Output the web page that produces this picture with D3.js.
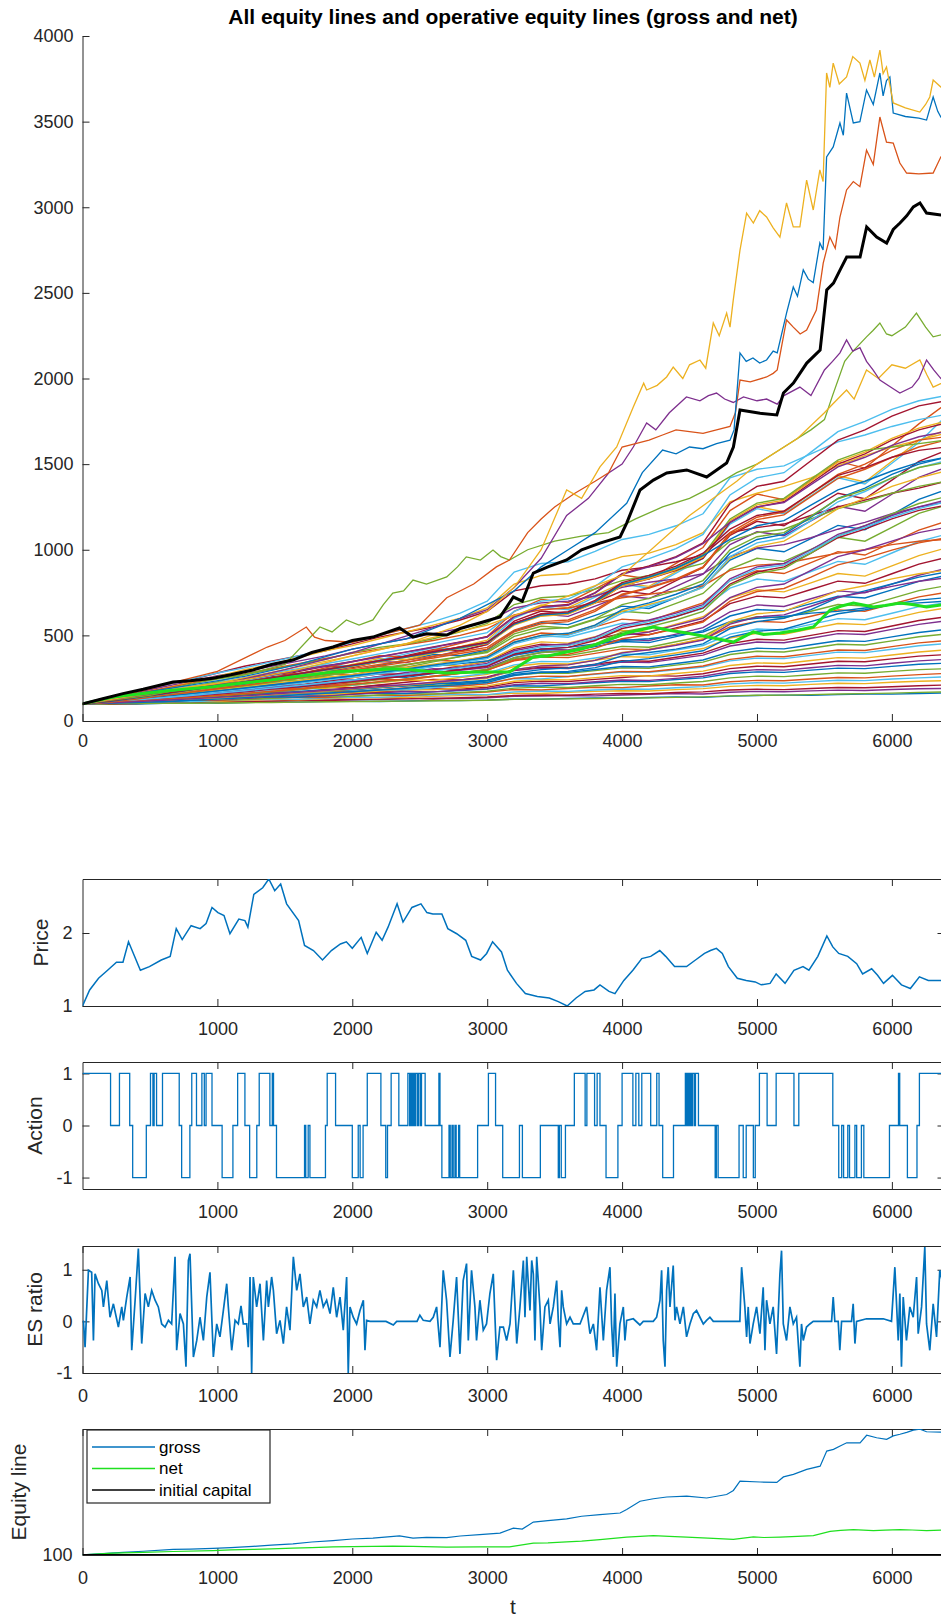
<!DOCTYPE html>
<html>
<head>
<meta charset="utf-8">
<script src="https://cdn.jsdelivr.net/npm/d3@7"></script>
<style>
  body { margin: 0; background: #fff; }
  svg { display: block; }
</style>
</head>
<body>
<div id="chart"></div>
<script>
////////////////////////////////////////////////////////////////////
////////////////////////////  Data  ////////////////////////////////
// sampling grid of the bulk equity lines (t)
const bulkT = [0,200,400,600,800,1000,1200,1400,1600,1800,2000,2200,2400,2600,2800,3000,3200,
  3400,3600,3800,4000,4200,4400,4600,4800,5000,5200,5400,5600,5800,6000,6200,6400];

// all equity lines (bulk), values read at bulkT
const bulkEquity = [
  [100,101,99,103,106,104,108,111,110,113,115,114,117,120,119,122,128,127,131,134,133,137,140,138,145,149,151,150,154,158,157,161,164],
  [100,104,107,105,110,114,117,115,119,124,126,125,130,133,131,136,144,146,149,147,152,156,160,158,168,173,171,176,180,178,184,188,190],
  [100,97,102,106,109,113,111,116,121,119,124,128,132,130,136,140,149,152,150,157,161,159,166,170,181,185,183,190,196,194,200,206,210],
  [100,105,108,113,117,115,121,126,124,130,135,139,137,144,148,152,163,161,168,173,177,175,183,189,202,208,206,214,220,218,226,232,236],
  [100,103,110,114,112,119,125,129,127,134,140,138,145,151,156,154,170,175,173,181,187,185,194,201,217,223,221,230,238,236,245,252,258],
  [100,106,111,116,122,120,127,134,139,137,145,151,149,157,164,169,184,182,190,197,195,204,212,210,229,237,235,245,254,252,262,271,278],
  [100,102,109,117,121,127,125,133,140,146,144,152,160,158,167,174,192,198,196,206,214,212,222,231,252,262,259,270,281,279,290,300,305],
  [100,107,114,112,121,129,134,141,139,148,156,163,161,170,178,186,206,204,214,223,232,230,242,252,277,287,284,297,309,306,319,331,338],
  [100,104,112,120,126,124,133,142,149,147,157,165,172,170,180,189,212,220,218,229,239,237,249,261,288,300,297,311,325,322,337,351,360],
  [100,108,116,122,130,138,136,146,155,163,161,171,180,188,186,197,224,233,231,243,254,265,262,276,306,320,317,333,349,346,363,379,388],
  [100,103,112,121,129,127,137,147,156,154,165,175,184,182,194,205,232,242,240,253,265,263,277,291,324,339,336,353,370,367,385,403,415],
  [100,109,118,116,126,136,145,154,152,163,174,184,182,194,206,218,248,246,259,273,286,284,299,315,351,367,364,383,402,399,419,439,452],
  [100,105,115,125,134,143,141,152,163,173,171,183,195,206,204,217,250,262,260,275,290,288,304,321,360,378,375,395,415,412,434,456,470],
  [100,110,120,131,129,140,151,161,172,170,183,195,207,205,219,233,268,280,278,294,310,308,326,344,388,407,403,425,448,444,468,492,508],
  [100,106,117,128,139,137,149,161,173,184,182,195,209,222,220,235,272,286,284,301,318,316,336,356,404,425,421,445,469,465,491,517,535],
  [100,111,122,120,132,145,157,169,167,181,195,209,207,222,238,253,294,309,306,325,344,341,363,385,438,461,457,483,510,505,535,564,585],
  [100,107,119,132,144,142,156,170,184,197,195,210,226,242,240,257,298,315,312,332,352,349,372,396,452,477,472,500,528,523,555,587,608],
  [100,112,125,138,136,150,165,179,193,191,207,223,239,237,254,272,318,336,333,354,376,372,397,423,485,512,507,538,569,563,598,634,660],
  [100,108,122,136,150,148,164,180,196,212,209,227,245,262,259,279,328,348,345,368,391,387,414,441,507,537,531,564,598,591,629,668,690],
  [100,114,128,126,142,158,174,190,188,206,224,242,239,259,279,298,352,374,370,395,421,416,446,476,549,582,576,612,649,641,683,725,750],
  [100,109,125,141,157,155,173,191,209,227,224,244,264,284,281,303,362,386,382,409,436,431,463,495,574,609,602,641,680,671,716,761,790],
  [100,115,131,129,147,165,183,201,198,218,238,258,255,277,300,322,384,410,405,434,464,458,493,528,613,651,643,685,728,718,766,815,850],
  [100,110,128,146,164,162,182,202,222,242,238,260,283,305,301,326,392,420,415,446,477,470,507,545,637,678,669,714,760,748,799,851,890],
  [100,116,134,132,152,172,192,212,209,231,253,276,272,297,322,347,418,449,443,477,511,504,544,585,685,729,719,768,817,804,860,916,955],
  [100,111,131,151,171,168,190,212,235,257,253,278,302,327,322,350,428,462,455,492,529,521,565,609,718,766,754,807,861,846,906,966,1010],
  [100,118,138,136,158,180,202,225,221,246,271,296,291,319,347,375,460,497,489,530,571,562,610,658,776,829,815,873,932,915,981,1048,1090],
  [100,113,135,157,179,176,201,226,251,276,271,299,327,355,349,380,473,514,505,550,595,584,637,690,819,877,861,925,989,969,1042,1115,1165],
  [100,120,142,140,164,189,214,239,235,263,291,319,314,345,376,407,509,553,543,592,641,629,687,745,887,950,932,1002,1073,1050,1131,1212,1260],
  [100,115,140,165,190,187,215,243,271,299,293,324,356,388,381,415,526,574,563,617,671,657,721,785,940,1008,988,1065,1142,1117,1205,1294,1350],
  [100,122,147,145,172,200,228,256,251,283,315,347,341,376,411,446,570,624,611,671,731,715,786,857,1030,1105,1082,1168,1254,1225,1324,1423,1480],
  [100,118,145,172,199,195,226,257,288,319,312,347,382,417,409,448,583,642,628,693,759,741,819,897,1084,1166,1140,1235,1330,1298,1407,1516,1580],
  [100,124,151,148,178,208,238,268,263,297,331,365,358,396,434,472,613,677,662,734,806,786,872,958,1161,1251,1222,1327,1432,1396,1517,1638,1700],
  [100,120,148,176,204,200,232,264,296,328,320,356,392,428,419,460,600,666,650,724,798,777,863,949,1150,1240,1210,1315,1420,1384,1505,1626,1780],
  [100,126,155,152,184,216,248,280,274,310,346,382,374,414,454,494,640,710,692,772,852,829,921,1013,1229,1325,1292,1404,1516,1477,1606,1735,1850],
  [100,100,102,103,104,105,107,108,110,112,113,115,116,118,120,121,126,128,129,131,134,135,138,141,147,150,151,154,158,160,163,167,170],
  [100,110,125,140,160,175,190,210,230,245,260,280,300,320,335,350,400,420,430,450,470,480,500,520,580,600,610,630,640,660,680,690,700],
  [100,130,165,200,230,265,290,320,350,380,420,450,480,510,540,580,660,690,700,730,780,810,830,860,960,1010,1030,1070,1120,1160,1210,1250,1280],
  [100,128,170,210,240,280,320,350,380,410,450,490,520,550,590,640,760,790,800,830,880,900,930,970,1100,1130,1150,1200,1250,1290,1330,1360,1400],
  [100,122,160,190,225,260,300,330,370,410,440,480,520,560,600,660,800,850,860,910,960,980,1030,1100,1280,1330,1370,1420,1490,1550,1600,1640,1680],
  [100,135,175,210,245,280,310,345,380,420,460,500,540,580,630,700,870,920,930,990,1060,1090,1140,1210,1420,1470,1490,1560,1630,1670,1720,1760,1790],
  [100,125,160,190,220,250,275,305,335,365,395,420,445,470,500,540,620,650,660,690,720,740,760,790,880,910,920,950,980,1000,1030,1050,1060],
  [100,118,150,180,215,245,270,300,330,360,400,430,450,480,520,570,680,720,730,770,820,850,880,920,1050,1100,1120,1180,1240,1280,1330,1370,1400],
  [100,105,112,120,130,138,146,155,165,175,185,196,205,215,226,238,280,300,310,330,380,400,420,450,540,580,600,650,720,760,800,840,870],
  [100,112,126,140,152,166,180,195,208,222,236,250,265,280,296,312,370,400,410,440,500,520,560,600,720,780,800,880,960,1000,1050,1100,1130],
  [100,108,118,130,142,156,170,186,200,215,230,246,262,280,300,320,390,420,430,470,540,570,610,660,800,870,900,980,1070,1120,1180,1230,1260],
  [100,115,132,150,166,184,200,218,236,254,272,292,312,332,354,376,460,500,510,560,640,680,720,780,950,1020,1050,1140,1240,1300,1370,1420,1460],
  [100,110,124,139,154,170,186,202,220,238,256,276,296,318,340,364,450,490,500,550,630,670,720,780,960,1040,1070,1170,1280,1340,1420,1480,1520],
  [100,118,138,158,178,198,218,240,262,284,306,330,354,378,404,430,530,580,590,650,740,780,830,900,1100,1190,1220,1330,1440,1500,1580,1640,1660],
  [100,106,114,124,134,146,158,170,184,198,212,228,244,262,280,300,370,400,410,450,520,550,590,640,790,860,890,980,1080,1140,1210,1270,1310],
  [100,113,128,144,160,176,193,210,228,246,264,284,304,326,348,372,460,500,512,560,650,690,740,800,980,1060,1090,1190,1300,1360,1440,1500,1540],
  [100,109,120,133,146,160,174,189,205,221,238,256,274,294,314,336,410,440,450,490,560,590,630,680,830,900,920,1000,1090,1140,1200,1250,1290],
  [100,120,142,164,186,208,230,254,278,302,326,352,378,404,432,460,570,620,630,690,790,830,880,950,1160,1250,1280,1390,1500,1560,1640,1700,1740],
  [100,104,110,118,126,135,144,154,164,175,186,198,210,223,236,250,300,322,330,356,400,420,448,480,580,626,640,700,760,790,830,860,880],
  [100,111,123,136,149,163,177,192,207,223,239,256,273,291,310,330,400,432,440,480,550,580,620,670,820,890,910,990,1080,1130,1190,1240,1280],
  [100,107,116,126,137,149,161,174,187,201,215,230,245,261,278,296,356,382,390,424,480,505,538,578,700,756,774,840,912,950,998,1040,1070],
  [100,116,134,152,170,188,206,226,246,266,286,308,330,352,376,400,494,536,546,596,680,716,760,820,1000,1076,1100,1196,1298,1350,1420,1480,1510],
  [100,103,108,114,121,128,136,144,153,162,171,181,191,202,213,225,266,284,290,312,348,364,386,410,490,524,536,580,626,650,680,706,720],
  [100,106,113,121,129,138,147,157,167,178,189,201,213,226,239,253,300,322,328,354,398,416,442,472,566,608,620,670,724,752,786,816,836],
  [100,120,145,170,195,220,245,270,296,322,348,376,404,432,462,492,610,668,680,750,860,905,960,1040,1270,1370,1400,1520,1640,1700,1780,1840,1870],
  [100,112,134,156,178,200,222,246,270,294,318,344,370,396,424,452,560,612,624,688,790,832,884,958,1170,1262,1290,1400,1512,1570,1650,1710,1750],
  [100,124,150,176,200,226,252,280,306,334,362,392,422,452,484,516,640,700,712,786,900,948,1006,1090,1320,1420,1450,1570,1690,1750,1820,1870,1900],
  [100,109,128,148,168,188,208,230,252,274,296,320,344,368,394,420,520,568,580,640,736,776,826,896,1090,1176,1204,1310,1416,1470,1540,1600,1640],
  [100,118,140,162,184,206,228,252,276,300,324,350,376,402,430,458,568,620,632,698,800,842,896,970,1180,1272,1300,1412,1524,1580,1600,1620,1640],
  [100,114,136,158,180,202,226,250,274,298,322,348,374,400,428,456,566,618,630,696,798,840,892,966,1060,1140,1170,1260,1350,1400,1460,1510,1540],
  [100,122,146,170,194,218,242,268,294,320,346,374,402,430,460,490,608,664,676,746,856,900,956,1036,1160,1250,1276,1380,1484,1540,1610,1660,1690],
  [100,116,138,160,182,204,228,252,276,300,326,352,378,404,432,460,572,626,638,704,808,850,904,980,1120,1200,1226,1330,1434,1480,1540,1580,1600]
];

// highest equity lines, [t, value]
const yellowTop = [[0,100],[400,150],[800,200],[1200,240],[1600,300],[2000,380],[2400,450],[2800,560],[3000,640],[3200,780],[3400,1000],[3589,1349],[3700,1300],[3836,1484],[3960,1600],[4083,1834],[4160,1973],[4182,1933],[4260,1960],[4330,2009],[4379,2067],[4450,2000],[4500,2080],[4577,2108],[4620,2060],[4676,2324],[4720,2250],[4775,2382],[4800,2300],[4824,2458],[4874,2750],[4923,2966],[4973,2908],[5020,2980],[5071,2943],[5120,2880],[5170,2826],[5219,3025],[5269,2885],[5318,2885],[5368,3159],[5417,2984],[5466,3218],[5490,3150],[5516,3784],[5540,3700],[5565,3842],[5610,3720],[5664,3761],[5710,3880],[5763,3842],[5800,3740],[5837,3860],[5870,3760],[5911,3918],[5935,3780],[5960,3819],[6010,3609],[6100,3580],[6207,3556],[6250,3600],[6281,3644],[6306,3743],[6363,3702],[6390,3700]];
const blueTop = [[0,100],[400,160],[800,210],[1200,260],[1600,330],[2000,420],[2400,480],[2800,600],[3000,680],[3200,760],[3400,900],[3600,1000],[3800,1100],[4034,1271],[4150,1450],[4300,1582],[4400,1560],[4500,1600],[4600,1590],[4700,1620],[4800,1640],[4830,1700],[4874,2149],[4920,2100],[4970,2120],[5020,2090],[5071,2108],[5120,2160],[5150,2150],[5219,2382],[5269,2534],[5300,2480],[5343,2634],[5380,2580],[5417,2560],[5466,2791],[5490,2750],[5516,3294],[5565,3352],[5615,3492],[5640,3420],[5664,3667],[5714,3492],[5763,3500],[5812,3685],[5862,3600],[5911,3784],[5935,3650],[5960,3740],[5985,3761],[6010,3550],[6100,3530],[6200,3520],[6257,3509],[6290,3600],[6306,3644],[6340,3560],[6363,3527],[6390,3530]];
const redTop = [[0,100],[400,170],[800,250],[1000,290],[1370,432],[1500,470],[1659,549],[1720,490],[1800,470],[2000,460],[2200,500],[2500,560],[2700,720],[2900,800],[3068,900],[3165,940],[3300,1100],[3400,1180],[3500,1250],[3650,1330],[3800,1400],[3900,1450],[4000,1600],[4100,1620],[4200,1640],[4300,1670],[4400,1700],[4500,1690],[4600,1680],[4700,1700],[4800,1720],[4840,1800],[4874,1991],[4950,1980],[5071,2009],[5120,2030],[5150,2050],[5219,2342],[5269,2300],[5320,2260],[5368,2283],[5440,2400],[5491,2674],[5540,2826],[5580,2760],[5615,2943],[5664,3101],[5714,3150],[5763,3120],[5812,3334],[5862,3250],[5911,3527],[5960,3380],[6010,3375],[6059,3258],[6109,3200],[6200,3195],[6306,3200],[6363,3294],[6390,3290]];
const purpleTop = [[0,100],[500,160],[1000,210],[1500,300],[2000,400],[2500,520],[3000,650],[3200,780],[3400,950],[3589,1200],[3750,1300],[3900,1448],[4000,1500],[4083,1600],[4182,1740],[4250,1700],[4350,1800],[4477,1892],[4577,1870],[4640,1900],[4700,1915],[4760,1880],[4824,1860],[4900,1892],[5000,1870],[5071,1880],[5150,1850],[5200,1900],[5318,1950],[5400,1900],[5500,2050],[5560,2100],[5615,2150],[5664,2225],[5710,2160],[5763,2180],[5812,2100],[5860,2050],[5911,1991],[5990,1950],[6059,1915],[6150,1950],[6200,2000],[6257,2108],[6310,2050],[6363,2000],[6390,2010]];
const oliveTop = [[0,100],[500,150],[1000,230],[1500,330],[1760,549],[1850,520],[1956,590],[2050,560],[2153,590],[2230,680],[2300,747],[2380,760],[2450,823],[2550,800],[2700,841],[2780,900],[2845,958],[2950,940],[3043,998],[3100,960],[3165,940],[3300,1000],[3500,1050],[3700,1080],[3900,1100],[4100,1180],[4300,1250],[4500,1300],[4700,1380],[4850,1450],[5000,1500],[5200,1600],[5400,1700],[5500,1760],[5560,1900],[5650,2100],[5700,2150],[5812,2243],[5860,2280],[5911,2324],[5960,2260],[6000,2250],[6100,2300],[6182,2382],[6250,2300],[6306,2243],[6390,2260]];
const yellowSecond = [[0,100],[1000,220],[2000,380],[3000,560],[3500,700],[4000,850],[4500,1200],[4850,1400],[5000,1500],[5300,1650],[5500,1800],[5560,1850],[5664,1933],[5720,1880],[5812,2050],[5900,2000],[6000,2080],[6100,2060],[6207,2108],[6260,2020],[6306,1950],[6390,1980]];

// operative equity lines
const grossEquity = [[0,100],[150,130],[300,160],[450,185],[672,228],[800,235],[967,250],[1100,270],[1264,298],[1400,330],[1560,356],[1700,400],[1857,432],[2000,470],[2153,490],[2350,543],[2450,490],[2550,510],[2700,502],[2800,540],[2944,572],[3095,607],[3194,724],[3260,700],[3342,864],[3450,900],[3589,940],[3700,1000],[3836,1039],[3985,1075],[4034,1156],[4133,1349],[4232,1407],[4331,1448],[4479,1466],[4627,1425],[4775,1506],[4825,1600],[4874,1816],[5023,1797],[5147,1787],[5196,1915],[5270,1973],[5369,2090],[5468,2166],[5517,2517],[5567,2557],[5620,2640],[5665,2709],[5764,2709],[5813,2885],[5887,2826],[5961,2791],[6010,2870],[6060,2908],[6110,2950],[6159,3002],[6208,3025],[6257,2966],[6363,2955],[6390,2955]];
const netEquity = [[0,100],[226,140],[450,160],[672,180],[967,200],[1100,215],[1264,228],[1400,240],[1560,257],[1700,270],[1857,286],[2000,292],[2153,298],[2300,305],[2450,298],[2700,280],[2944,286],[3165,286],[3342,374],[3450,380],[3589,403],[3700,420],[3836,455],[4034,514],[4232,549],[4350,530],[4479,514],[4676,485],[4825,461],[4973,520],[5050,505],[5171,514],[5300,530],[5418,549],[5542,648],[5620,670],[5715,689],[5863,666],[5950,675],[6060,689],[6150,680],[6257,666],[6390,680]];
const initialCapital = 100;

// price, [t, value]
const price = [[0,1.0],[53,1.22],[119,1.38],[186,1.49],[252,1.6],[300,1.6],[341,1.88],[429,1.49],[496,1.54],[584,1.63],[650,1.68],[695,2.06],[739,1.91],[805,2.1],[872,2.06],[916,2.13],[960,2.35],[1004,2.28],[1049,2.24],[1093,1.99],[1159,2.19],[1204,2.17],[1226,2.08],[1270,2.53],[1336,2.62],[1381,2.74],[1425,2.58],[1469,2.67],[1513,2.4],[1602,2.17],[1646,1.83],[1712,1.76],[1779,1.63],[1845,1.76],[1912,1.85],[1956,1.88],[2000,1.79],[2066,1.94],[2111,1.72],[2177,2.01],[2221,1.9],[2265,2.08],[2332,2.4],[2376,2.15],[2442,2.35],[2509,2.4],[2553,2.28],[2597,2.26],[2664,2.26],[2708,2.06],[2774,1.99],[2841,1.9],[2885,1.68],[2951,1.63],[2996,1.72],[3040,1.88],[3106,1.74],[3150,1.49],[3217,1.31],[3283,1.17],[3372,1.13],[3460,1.11],[3527,1.06],[3593,1.0],[3659,1.11],[3726,1.2],[3792,1.22],[3836,1.29],[3903,1.2],[3947,1.17],[4013,1.35],[4080,1.49],[4146,1.65],[4212,1.68],[4279,1.76],[4323,1.68],[4389,1.54],[4478,1.54],[4544,1.63],[4611,1.72],[4655,1.76],[4699,1.79],[4743,1.72],[4788,1.54],[4854,1.38],[4920,1.35],[4987,1.33],[5031,1.29],[5097,1.31],[5142,1.44],[5208,1.31],[5274,1.49],[5341,1.54],[5385,1.49],[5451,1.68],[5518,1.96],[5562,1.81],[5606,1.72],[5673,1.68],[5739,1.58],[5783,1.44],[5850,1.51],[5894,1.42],[5938,1.31],[6004,1.42],[6071,1.29],[6137,1.24],[6204,1.4],[6270,1.35],[6390,1.35]];

// action, [t where it changes, level]
const action = [[0,1],[208,0],[274,1],[350,0],[372,-1],[473,0],[504,1],[522,0],[531,1],[549,0],[593,1],[717,0],[735,-1],[796,0],[810,1],[845,0],[885,1],[903,0],[916,1],[960,0],[1035,-1],[1115,0],[1150,1],[1204,0],[1239,-1],[1292,0],[1310,1],[1389,0],[1407,1],[1416,0],[1438,-1],[1646,0],[1655,-1],[1673,0],[1686,-1],[1801,0],[1814,1],[1876,0],[2000,-1],[2044,0],[2058,-1],[2080,0],[2111,1],[2212,0],[2248,-1],[2261,0],[2288,1],[2345,0],[2412,1],[2425,0],[2434,1],[2442,0],[2451,1],[2460,0],[2469,1],[2482,0],[2491,1],[2504,0],[2513,1],[2540,0],[2642,1],[2650,0],[2664,-1],[2717,0],[2726,-1],[2739,0],[2748,-1],[2761,0],[2770,-1],[2788,0],[2796,-1],[2929,0],[3009,1],[3062,0],[3115,-1],[3239,0],[3261,-1],[3394,0],[3527,-1],[3535,0],[3549,-1],[3580,0],[3646,1],[3726,0],[3739,1],[3796,0],[3815,1],[3836,0],[3881,-1],[3969,0],[4000,1],[4080,0],[4102,1],[4124,0],[4146,1],[4212,0],[4257,1],[4274,0],[4301,-1],[4381,0],[4469,1],[4478,0],[4487,1],[4496,0],[4504,1],[4513,0],[4522,1],[4535,0],[4544,1],[4566,0],[4690,-1],[4699,0],[4712,-1],[4867,0],[4898,-1],[4920,0],[4973,-1],[4987,0],[5018,1],[5075,0],[5142,1],[5274,0],[5310,1],[5562,0],[5606,-1],[5628,0],[5642,-1],[5673,0],[5686,-1],[5726,0],[5739,-1],[5774,0],[5792,-1],[5982,0],[6049,1],[6058,0],[6115,-1],[6186,0],[6204,1],[6390,1]];

// ES ratio, [t, value]
const esRatio = [[0,0],[7,0],[19,-0.5],[44,0.99],[68,0.95],[81,-0.37],[93,0.92],[118,0.73],[143,0.6],[155,0.28],[180,0.79],[204,0.08],[229,0.34],[266,-0.11],[291,0.28],[303,0.02],[328,0.47],[353,0.86],[365,-0.56],[390,0.41],[414,1.41],[439,-0.43],[464,0.54],[488,0.28],[513,0.6],[538,0.41],[562,0.28],[587,-0.05],[612,-0.11],[637,0.02],[661,-0.05],[686,1.25],[698,-0.56],[723,0.15],[748,-0.05],[767,-0.88],[785,1.18],[797,1.31],[822,-0.69],[847,-0.37],[871,0.08],[896,-0.37],[921,0.47],[945,0.95],[970,-0.69],[995,-0.05],[1019,-0.3],[1044,0.21],[1069,0.73],[1081,0.28],[1106,-0.56],[1131,0.02],[1155,-0.05],[1175,0.3],[1192,-0.05],[1217,-0.05],[1229,-0.5],[1242,0.86],[1254,-1.0],[1266,0.86],[1291,0.28],[1316,0.73],[1341,-0.37],[1365,0.79],[1378,0.28],[1402,0.86],[1415,0.6],[1439,-0.24],[1464,0.02],[1489,-0.43],[1513,0.28],[1538,-0.17],[1563,1.25],[1588,0.6],[1612,0.92],[1637,0.28],[1662,0.47],[1686,-0.05],[1711,0.41],[1736,0.28],[1760,0.6],[1785,0.28],[1810,0.41],[1835,0.15],[1859,0.66],[1884,0.08],[1909,0.47],[1933,-0.17],[1958,0.86],[1970,-1.0],[1983,0.28],[2007,0.08],[2032,-0.05],[2057,0.21],[2082,0.41],[2094,-0.56],[2106,0.02],[2131,0],[2250,0],[2304,-0.07],[2329,0],[2480,0],[2501,0.12],[2526,0.02],[2576,0],[2600,0.08],[2625,0.28],[2650,-0.5],[2674,0.99],[2699,0.41],[2724,-0.69],[2748,0.02],[2773,0.86],[2798,-0.63],[2822,0.79],[2847,1.12],[2860,-0.37],[2884,0.99],[2909,0.28],[2921,-0.37],[2946,0.41],[2971,-0.17],[2995,-0.05],[3020,0.54],[3045,0.92],[3070,-0.75],[3094,-0.11],[3120,-0.11],[3144,-0.37],[3169,-0.05],[3194,0.99],[3219,-0.43],[3243,0.28],[3268,1.18],[3280,0.08],[3293,1.25],[3317,0.21],[3330,1.18],[3342,0.92],[3354,-0.37],[3367,1.25],[3391,0.28],[3404,-0.56],[3428,0.28],[3453,0.41],[3466,-0.05],[3490,0.28],[3515,0.79],[3527,0.02],[3540,-0.5],[3552,0.6],[3564,0.28],[3589,-0.05],[3614,0.08],[3638,-0.05],[3688,-0.05],[3737,0.28],[3762,-0.24],[3787,-0.05],[3811,-0.56],[3836,0.66],[3861,-0.37],[3885,0.6],[3910,1.05],[3922,-0.05],[3935,-0.69],[3947,0.54],[3960,-0.88],[3984,-0.05],[4009,0.28],[4021,-0.37],[4034,0.02],[4083,0.05],[4132,-0.07],[4157,0],[4231,0],[4256,0.08],[4281,0.41],[4293,0.99],[4305,-0.37],[4318,-0.88],[4330,0.6],[4342,1.05],[4355,0.28],[4379,1.08],[4392,0.02],[4404,0.28],[4429,-0.05],[4454,0.28],[4478,-0.3],[4503,-0.05],[4528,0.15],[4552,0.21],[4577,0.08],[4602,-0.05],[4626,0.02],[4651,0.08],[4676,0],[4873,0],[4886,1.05],[4910,0.28],[4923,-0.3],[4935,0.28],[4948,-0.43],[4972,-0.05],[4997,0.28],[5022,-0.24],[5046,0.66],[5059,-0.56],[5071,0.41],[5096,-0.05],[5120,0.28],[5145,-0.63],[5170,0.92],[5182,1.37],[5195,-0.05],[5219,-0.37],[5244,0.28],[5269,-0.05],[5293,0.08],[5318,-0.88],[5330,-0.05],[5343,-0.37],[5367,-0.11],[5392,-0.05],[5417,0],[5553,0],[5565,0.47],[5577,0],[5602,0],[5614,-0.56],[5627,0],[5701,0],[5713,0.34],[5726,-0.43],[5738,0],[5812,0.05],[5862,0.05],[5936,0.05],[5997,0],[6022,1.05],[6047,-0.37],[6059,0.54],[6071,-0.88],[6084,0.47],[6108,-0.37],[6133,0.28],[6158,0.08],[6183,0.86],[6195,-0.24],[6220,0.28],[6244,1.44],[6257,-0.05],[6281,-0.56],[6306,0.34],[6331,-0.3],[6355,0.99],[6390,0.6]];

// ticks
const topXTicks = [0, 1000, 2000, 3000, 4000, 5000, 6000];
const topYTicks = [0, 500, 1000, 1500, 2000, 2500, 3000, 3500, 4000];
const subXTicks = [1000, 2000, 3000, 4000, 5000, 6000];
const priceYTicks = [1, 2];
const actionYTicks = [-1, 0, 1];
const esYTicks = [-1, 0, 1];
const equityYTicks = [100];
const legendLabels = ["gross", "net", "initial capital"];

////////////////////////////////////////////////////////////////////
////////////////////////////  Init  ////////////////////////////////
const width = 941, height = 1618;
const ink = "#262626";
const matlab = ["#0072BD", "#D95319", "#EDB120", "#7E2F8E", "#77AC30", "#4DBEEE", "#A2142F"];
const green = "#1fe01f";
const font = "'Liberation Sans', Arial, sans-serif";
const plain = (d) => String(d); // matlab style tick labels, no grouping

const svg = d3.select("#chart").append("svg")
  .attr("width", width).attr("height", height)
  .style("font-family", font);

const xLeft = 82.5, xRight = 944.5;
const xScale = d3.scaleLinear().domain([0, 6390]).range([xLeft, xRight]);

function styleAxis(g, size) {
  g.attr("font-family", null).attr("font-size", null);
  g.selectAll("text").attr("font-size", size).attr("fill", ink);
  g.selectAll("line").attr("stroke", ink);
  g.select(".domain").attr("stroke", ink);
}

function clip(id, y0, y1) {
  svg.append("clipPath").attr("id", id)
    .append("rect").attr("x", xLeft).attr("y", y0).attr("width", xRight - xLeft).attr("height", y1 - y0);
  return `url(#${id})`;
}

const lineOf = (y) => d3.line().x((d) => xScale(d[0])).y((d) => y(d[1]));

// title
svg.append("text")
  .attr("x", 513).attr("y", 24)
  .attr("text-anchor", "middle")
  .attr("font-size", 21).attr("font-weight", "bold").attr("fill", "#000")
  .text("All equity lines and operative equity lines (gross and net)");

////////////////////////////////////////////////////////////////////
////////////////////////////  Top plot  ////////////////////////////
const yTop = d3.scaleLinear().domain([0, 4000]).range([721, 36]);
const topClip = clip("clip-top", 36, 721);
const gTop = svg.append("g").attr("clip-path", topClip);

bulkEquity.forEach((vals, i) => {
  gTop.append("path")
    .datum(vals.map((v, k) => [bulkT[k], v]))
    .attr("fill", "none")
    .attr("stroke", matlab[(i * 3) % 7])
    .attr("stroke-width", 1.4)
    .attr("d", lineOf(yTop));
});

[[oliveTop, 4], [yellowSecond, 2], [purpleTop, 3], [redTop, 1], [blueTop, 0], [yellowTop, 2]].forEach(([d, c]) => {
  gTop.append("path").datum(d)
    .attr("fill", "none").attr("stroke", matlab[c]).attr("stroke-width", 1.3)
    .attr("d", lineOf(yTop));
});

gTop.append("path").datum(netEquity)
  .attr("fill", "none").attr("stroke", green).attr("stroke-width", 3)
  .attr("d", lineOf(yTop));
gTop.append("path").datum(grossEquity)
  .attr("fill", "none").attr("stroke", "#000").attr("stroke-width", 3)
  .attr("d", lineOf(yTop));

svg.append("g").attr("transform", "translate(0,721)")
  .call(d3.axisBottom(xScale).tickValues(topXTicks).tickFormat(plain).tickSizeInner(-7).tickSizeOuter(0).tickPadding(13))
  .call(styleAxis, 18);
svg.append("g").attr("transform", `translate(${xLeft},0)`)
  .call(d3.axisLeft(yTop).tickValues(topYTicks).tickFormat(plain).tickSizeInner(-7).tickSizeOuter(0).tickPadding(9))
  .call(styleAxis, 18);

////////////////////////////////////////////////////////////////////
////////////////////////////  Sub plots  ///////////////////////////
function panel(y0, y1, domain, yTicks, xTicks, label, labelX) {
  const y = d3.scaleLinear().domain(domain).range([y1, y0]);
  const g = svg.append("g");
  g.append("g").attr("transform", `translate(0,${y1})`)
    .call(d3.axisBottom(xScale).tickValues(xTicks).tickFormat(plain).tickSizeInner(-7).tickSizeOuter(0).tickPadding(16))
    .call(styleAxis, 18);
  g.append("g").attr("transform", `translate(0,${y0})`)
    .call(d3.axisTop(xScale).tickValues(xTicks).tickSizeInner(-7).tickSizeOuter(0).tickFormat(""))
    .call(styleAxis, 18);
  g.append("g").attr("transform", `translate(${xLeft},0)`)
    .call(d3.axisLeft(y).tickValues(yTicks).tickFormat(plain).tickSizeInner(-7).tickSizeOuter(0).tickPadding(10))
    .call(styleAxis, 18);
  g.append("g").attr("transform", `translate(${xRight},0)`)
    .call(d3.axisRight(y).tickValues(yTicks).tickSizeInner(-7).tickSizeOuter(0).tickFormat(""))
    .call(styleAxis, 18);
  g.append("text")
    .attr("transform", `translate(${labelX},${(y0 + y1) / 2}) rotate(-90)`)
    .attr("text-anchor", "middle").attr("dy", "0.35em")
    .attr("font-size", 21).attr("fill", ink)
    .text(label);
  return y;
}

// price
const yPrice = panel(879, 1006, [1, 2.74], priceYTicks, subXTicks, "Price", 41);
svg.append("path").datum(price)
  .attr("clip-path", clip("clip-price", 879, 1006))
  .attr("fill", "none").attr("stroke", matlab[0]).attr("stroke-width", 1.5)
  .attr("d", lineOf(yPrice));

// action
const yAction = panel(1062, 1189, [-1.22, 1.22], actionYTicks, subXTicks, "Action", 35);
svg.append("path").datum(action)
  .attr("clip-path", clip("clip-action", 1062, 1189))
  .attr("fill", "none").attr("stroke", matlab[0]).attr("stroke-width", 1.3)
  .attr("d", lineOf(yAction).curve(d3.curveStepAfter));

// ES ratio
const yES = panel(1246, 1373, [-1, 1.46], esYTicks, topXTicks, "ES ratio", 35);
svg.append("path").datum(esRatio)
  .attr("clip-path", clip("clip-es", 1246, 1373))
  .attr("fill", "none").attr("stroke", matlab[0]).attr("stroke-width", 1.7)
  .attr("d", lineOf(yES));

// equity line
const yEq = panel(1429, 1555, [98, 3030], equityYTicks, topXTicks, "Equity line", 19);
const eqClip = clip("clip-eq", 1429, 1555);
svg.append("path").datum(grossEquity)
  .attr("clip-path", eqClip)
  .attr("fill", "none").attr("stroke", matlab[0]).attr("stroke-width", 1.2)
  .attr("d", lineOf(yEq));
svg.append("path").datum(netEquity)
  .attr("clip-path", eqClip)
  .attr("fill", "none").attr("stroke", green).attr("stroke-width", 1.2)
  .attr("d", lineOf(yEq));
svg.append("path").datum([[0, initialCapital], [6390, initialCapital]])
  .attr("clip-path", eqClip)
  .attr("fill", "none").attr("stroke", "#000").attr("stroke-width", 2)
  .attr("d", lineOf(yEq));

// legend
const legend = svg.append("g").attr("transform", "translate(87,1430)");
legend.append("rect").attr("width", 183).attr("height", 73)
  .attr("fill", "#fff").attr("stroke", ink).attr("stroke-width", 1.2);
const legendColors = [matlab[0], green, "#000"];
legendLabels.forEach((lab, i) => {
  const yy = 17 + i * 21.5;
  legend.append("line").attr("x1", 5).attr("x2", 68).attr("y1", yy).attr("y2", yy)
    .attr("stroke", legendColors[i]).attr("stroke-width", 1.5);
  legend.append("text").attr("x", 72).attr("y", yy).attr("dy", "0.35em")
    .attr("font-size", 17).attr("fill", "#000").text(lab);
});

// x label
svg.append("text").attr("x", 513).attr("y", 1614)
  .attr("text-anchor", "middle").attr("font-size", 21).attr("fill", ink)
  .text("t");
</script>
</body>
</html>
